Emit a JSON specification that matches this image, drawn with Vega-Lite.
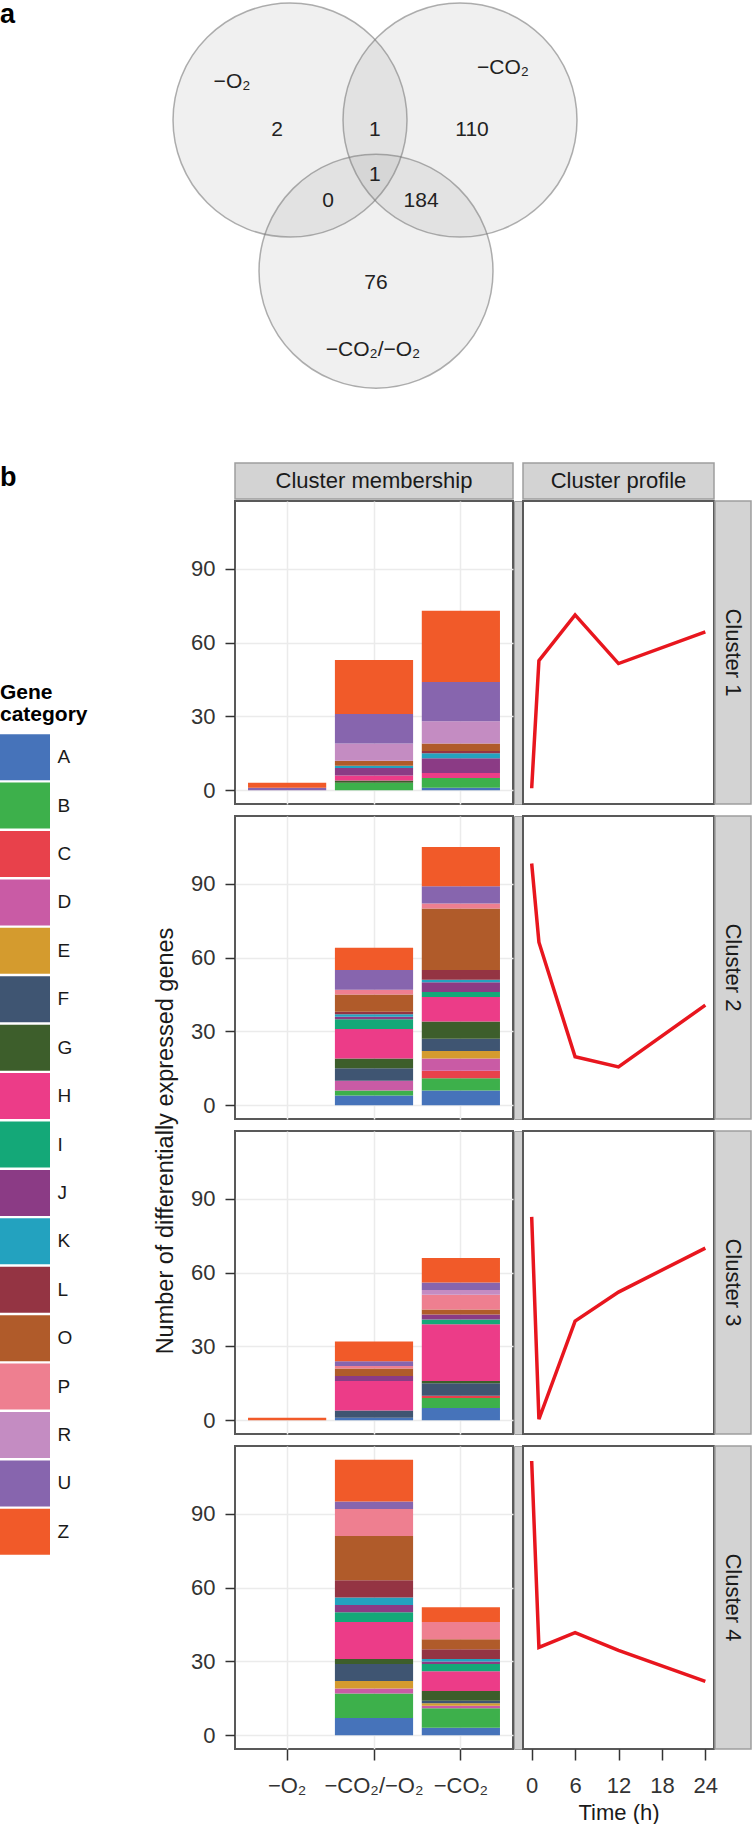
{
  "$schema": "https://vega.github.io/schema/vega-lite/v6.json",
  "padding": 0,
  "background": "white",
  "config": {
    "font": "Liberation Sans",
    "view": {"stroke": null},
    "axis": {"labelFontSize": 22, "labelColor": "#333333", "tickColor": "#333333", "tickWidth": 1.5, "domain": false, "gridColor": "#EBEBEB", "gridWidth": 1.5, "titleFontSize": 22, "titleFontWeight": "normal", "titleColor": "#1A1A1A"},
    "title": {"fontWeight": "normal", "color": "#1A1A1A"}
  },
  "datasets": {
    "venn_sets": [
      {"set": "−O₂", "cx": 0, "cy": 0},
      {"set": "−CO₂", "cx": 1.453, "cy": 0},
      {"set": "−CO₂/−O₂", "cx": 0.735, "cy": -1.291}
    ],
    "venn_labels": [
      {"label": "−O₂", "tx": -0.496, "ty": 0.325},
      {"label": "−CO₂", "tx": 1.821, "ty": 0.444},
      {"label": "−CO₂/−O₂", "tx": 0.709, "ty": -1.966},
      {"label": "2", "tx": -0.111, "ty": -0.085},
      {"label": "1", "tx": 0.726, "ty": -0.085},
      {"label": "110", "tx": 1.556, "ty": -0.085},
      {"label": "1", "tx": 0.726, "ty": -0.47},
      {"label": "0", "tx": 0.325, "ty": -0.692},
      {"label": "184", "tx": 1.12, "ty": -0.692},
      {"label": "76", "tx": 0.735, "ty": -1.393}
    ],
    "cats": [
      {"cat": "A"}, {"cat": "B"}, {"cat": "C"}, {"cat": "D"}, {"cat": "E"}, {"cat": "F"}, {"cat": "G"}, {"cat": "H"}, {"cat": "I"}, {"cat": "J"}, {"cat": "K"}, {"cat": "L"}, {"cat": "O"}, {"cat": "P"}, {"cat": "R"}, {"cat": "U"}, {"cat": "Z"}
    ],
    "prof": [
      {"cluster": "Cluster 1", "t": 0, "v": 0.8}, {"cluster": "Cluster 1", "t": 1, "v": 52.7}, {"cluster": "Cluster 1", "t": 6, "v": 71.3}, {"cluster": "Cluster 1", "t": 12, "v": 51.5}, {"cluster": "Cluster 1", "t": 24, "v": 64.4},
      {"cluster": "Cluster 2", "t": 0, "v": 98.3}, {"cluster": "Cluster 2", "t": 1, "v": 66.3}, {"cluster": "Cluster 2", "t": 6, "v": 19.7}, {"cluster": "Cluster 2", "t": 12, "v": 15.6}, {"cluster": "Cluster 2", "t": 24, "v": 40.7},
      {"cluster": "Cluster 3", "t": 0, "v": 82.7}, {"cluster": "Cluster 3", "t": 1, "v": 0.4}, {"cluster": "Cluster 3", "t": 6, "v": 40.3}, {"cluster": "Cluster 3", "t": 12, "v": 52.1}, {"cluster": "Cluster 3", "t": 24, "v": 70.0},
      {"cluster": "Cluster 4", "t": 0, "v": 111.5}, {"cluster": "Cluster 4", "t": 1, "v": 35.7}, {"cluster": "Cluster 4", "t": 6, "v": 41.7}, {"cluster": "Cluster 4", "t": 12, "v": 34.5}, {"cluster": "Cluster 4", "t": 24, "v": 21.9}
    ],
    "bars": [
      {"cluster": "Cluster 1", "cond": "−O₂", "cat": "U", "n": 1},
      {"cluster": "Cluster 1", "cond": "−O₂", "cat": "Z", "n": 2},
      {"cluster": "Cluster 1", "cond": "−CO₂/−O₂", "cat": "B", "n": 3},
      {"cluster": "Cluster 1", "cond": "−CO₂/−O₂", "cat": "G", "n": 1},
      {"cluster": "Cluster 1", "cond": "−CO₂/−O₂", "cat": "H", "n": 2},
      {"cluster": "Cluster 1", "cond": "−CO₂/−O₂", "cat": "J", "n": 3},
      {"cluster": "Cluster 1", "cond": "−CO₂/−O₂", "cat": "K", "n": 1},
      {"cluster": "Cluster 1", "cond": "−CO₂/−O₂", "cat": "O", "n": 2},
      {"cluster": "Cluster 1", "cond": "−CO₂/−O₂", "cat": "R", "n": 7},
      {"cluster": "Cluster 1", "cond": "−CO₂/−O₂", "cat": "U", "n": 12},
      {"cluster": "Cluster 1", "cond": "−CO₂/−O₂", "cat": "Z", "n": 22},
      {"cluster": "Cluster 1", "cond": "−CO₂", "cat": "A", "n": 1},
      {"cluster": "Cluster 1", "cond": "−CO₂", "cat": "B", "n": 4},
      {"cluster": "Cluster 1", "cond": "−CO₂", "cat": "H", "n": 2},
      {"cluster": "Cluster 1", "cond": "−CO₂", "cat": "J", "n": 6},
      {"cluster": "Cluster 1", "cond": "−CO₂", "cat": "K", "n": 2},
      {"cluster": "Cluster 1", "cond": "−CO₂", "cat": "L", "n": 1},
      {"cluster": "Cluster 1", "cond": "−CO₂", "cat": "O", "n": 3},
      {"cluster": "Cluster 1", "cond": "−CO₂", "cat": "R", "n": 9},
      {"cluster": "Cluster 1", "cond": "−CO₂", "cat": "U", "n": 16},
      {"cluster": "Cluster 1", "cond": "−CO₂", "cat": "Z", "n": 29},
      {"cluster": "Cluster 2", "cond": "−CO₂/−O₂", "cat": "A", "n": 4},
      {"cluster": "Cluster 2", "cond": "−CO₂/−O₂", "cat": "B", "n": 2},
      {"cluster": "Cluster 2", "cond": "−CO₂/−O₂", "cat": "D", "n": 4},
      {"cluster": "Cluster 2", "cond": "−CO₂/−O₂", "cat": "F", "n": 5},
      {"cluster": "Cluster 2", "cond": "−CO₂/−O₂", "cat": "G", "n": 4},
      {"cluster": "Cluster 2", "cond": "−CO₂/−O₂", "cat": "H", "n": 12},
      {"cluster": "Cluster 2", "cond": "−CO₂/−O₂", "cat": "I", "n": 4},
      {"cluster": "Cluster 2", "cond": "−CO₂/−O₂", "cat": "J", "n": 1},
      {"cluster": "Cluster 2", "cond": "−CO₂/−O₂", "cat": "K", "n": 1},
      {"cluster": "Cluster 2", "cond": "−CO₂/−O₂", "cat": "L", "n": 1},
      {"cluster": "Cluster 2", "cond": "−CO₂/−O₂", "cat": "O", "n": 7},
      {"cluster": "Cluster 2", "cond": "−CO₂/−O₂", "cat": "P", "n": 2},
      {"cluster": "Cluster 2", "cond": "−CO₂/−O₂", "cat": "U", "n": 8},
      {"cluster": "Cluster 2", "cond": "−CO₂/−O₂", "cat": "Z", "n": 9},
      {"cluster": "Cluster 2", "cond": "−CO₂", "cat": "A", "n": 6},
      {"cluster": "Cluster 2", "cond": "−CO₂", "cat": "B", "n": 5},
      {"cluster": "Cluster 2", "cond": "−CO₂", "cat": "C", "n": 3},
      {"cluster": "Cluster 2", "cond": "−CO₂", "cat": "D", "n": 5},
      {"cluster": "Cluster 2", "cond": "−CO₂", "cat": "E", "n": 3},
      {"cluster": "Cluster 2", "cond": "−CO₂", "cat": "F", "n": 5},
      {"cluster": "Cluster 2", "cond": "−CO₂", "cat": "G", "n": 7},
      {"cluster": "Cluster 2", "cond": "−CO₂", "cat": "H", "n": 10},
      {"cluster": "Cluster 2", "cond": "−CO₂", "cat": "I", "n": 2},
      {"cluster": "Cluster 2", "cond": "−CO₂", "cat": "J", "n": 4},
      {"cluster": "Cluster 2", "cond": "−CO₂", "cat": "K", "n": 1},
      {"cluster": "Cluster 2", "cond": "−CO₂", "cat": "L", "n": 4},
      {"cluster": "Cluster 2", "cond": "−CO₂", "cat": "O", "n": 25},
      {"cluster": "Cluster 2", "cond": "−CO₂", "cat": "P", "n": 2},
      {"cluster": "Cluster 2", "cond": "−CO₂", "cat": "U", "n": 7},
      {"cluster": "Cluster 2", "cond": "−CO₂", "cat": "Z", "n": 16},
      {"cluster": "Cluster 3", "cond": "−O₂", "cat": "Z", "n": 1},
      {"cluster": "Cluster 3", "cond": "−CO₂/−O₂", "cat": "A", "n": 1},
      {"cluster": "Cluster 3", "cond": "−CO₂/−O₂", "cat": "F", "n": 3},
      {"cluster": "Cluster 3", "cond": "−CO₂/−O₂", "cat": "H", "n": 12},
      {"cluster": "Cluster 3", "cond": "−CO₂/−O₂", "cat": "J", "n": 2},
      {"cluster": "Cluster 3", "cond": "−CO₂/−O₂", "cat": "O", "n": 3},
      {"cluster": "Cluster 3", "cond": "−CO₂/−O₂", "cat": "P", "n": 1},
      {"cluster": "Cluster 3", "cond": "−CO₂/−O₂", "cat": "U", "n": 2},
      {"cluster": "Cluster 3", "cond": "−CO₂/−O₂", "cat": "Z", "n": 8},
      {"cluster": "Cluster 3", "cond": "−CO₂", "cat": "A", "n": 5},
      {"cluster": "Cluster 3", "cond": "−CO₂", "cat": "B", "n": 4},
      {"cluster": "Cluster 3", "cond": "−CO₂", "cat": "C", "n": 1},
      {"cluster": "Cluster 3", "cond": "−CO₂", "cat": "F", "n": 5},
      {"cluster": "Cluster 3", "cond": "−CO₂", "cat": "G", "n": 1},
      {"cluster": "Cluster 3", "cond": "−CO₂", "cat": "H", "n": 23},
      {"cluster": "Cluster 3", "cond": "−CO₂", "cat": "I", "n": 2},
      {"cluster": "Cluster 3", "cond": "−CO₂", "cat": "J", "n": 2},
      {"cluster": "Cluster 3", "cond": "−CO₂", "cat": "O", "n": 2},
      {"cluster": "Cluster 3", "cond": "−CO₂", "cat": "P", "n": 6},
      {"cluster": "Cluster 3", "cond": "−CO₂", "cat": "R", "n": 2},
      {"cluster": "Cluster 3", "cond": "−CO₂", "cat": "U", "n": 3},
      {"cluster": "Cluster 3", "cond": "−CO₂", "cat": "Z", "n": 10},
      {"cluster": "Cluster 4", "cond": "−CO₂/−O₂", "cat": "A", "n": 7},
      {"cluster": "Cluster 4", "cond": "−CO₂/−O₂", "cat": "B", "n": 10},
      {"cluster": "Cluster 4", "cond": "−CO₂/−O₂", "cat": "D", "n": 2},
      {"cluster": "Cluster 4", "cond": "−CO₂/−O₂", "cat": "E", "n": 3},
      {"cluster": "Cluster 4", "cond": "−CO₂/−O₂", "cat": "F", "n": 7},
      {"cluster": "Cluster 4", "cond": "−CO₂/−O₂", "cat": "G", "n": 2},
      {"cluster": "Cluster 4", "cond": "−CO₂/−O₂", "cat": "H", "n": 15},
      {"cluster": "Cluster 4", "cond": "−CO₂/−O₂", "cat": "I", "n": 4},
      {"cluster": "Cluster 4", "cond": "−CO₂/−O₂", "cat": "J", "n": 3},
      {"cluster": "Cluster 4", "cond": "−CO₂/−O₂", "cat": "K", "n": 3},
      {"cluster": "Cluster 4", "cond": "−CO₂/−O₂", "cat": "L", "n": 7},
      {"cluster": "Cluster 4", "cond": "−CO₂/−O₂", "cat": "O", "n": 18},
      {"cluster": "Cluster 4", "cond": "−CO₂/−O₂", "cat": "P", "n": 11},
      {"cluster": "Cluster 4", "cond": "−CO₂/−O₂", "cat": "U", "n": 3},
      {"cluster": "Cluster 4", "cond": "−CO₂/−O₂", "cat": "Z", "n": 17},
      {"cluster": "Cluster 4", "cond": "−CO₂", "cat": "A", "n": 3},
      {"cluster": "Cluster 4", "cond": "−CO₂", "cat": "B", "n": 8},
      {"cluster": "Cluster 4", "cond": "−CO₂", "cat": "D", "n": 1},
      {"cluster": "Cluster 4", "cond": "−CO₂", "cat": "E", "n": 1},
      {"cluster": "Cluster 4", "cond": "−CO₂", "cat": "F", "n": 1},
      {"cluster": "Cluster 4", "cond": "−CO₂", "cat": "G", "n": 4},
      {"cluster": "Cluster 4", "cond": "−CO₂", "cat": "H", "n": 8},
      {"cluster": "Cluster 4", "cond": "−CO₂", "cat": "I", "n": 3},
      {"cluster": "Cluster 4", "cond": "−CO₂", "cat": "J", "n": 1},
      {"cluster": "Cluster 4", "cond": "−CO₂", "cat": "K", "n": 1},
      {"cluster": "Cluster 4", "cond": "−CO₂", "cat": "L", "n": 4},
      {"cluster": "Cluster 4", "cond": "−CO₂", "cat": "O", "n": 4},
      {"cluster": "Cluster 4", "cond": "−CO₂", "cat": "P", "n": 7},
      {"cluster": "Cluster 4", "cond": "−CO₂", "cat": "Z", "n": 6}
    ]
  },
  "spacing": 70,
  "vconcat": [
    {
      "width": 754,
      "height": 390,
      "view": {"stroke": null},
      "layer": [
        {
          "data": {"name": "venn_sets"},
          "mark": {"type": "point", "shape": "circle", "filled": true, "size": 54756, "fill": "#808080", "fillOpacity": 0.12, "stroke": "#7A7A7A", "strokeOpacity": 0.6, "strokeWidth": 1.5},
          "encoding": {
            "x": {"field": "cx", "type": "quantitative", "scale": {"domain": [-2.479, 3.966], "nice": false, "zero": false}, "axis": null},
            "y": {"field": "cy", "type": "quantitative", "scale": {"domain": [-2.324, 1.009], "nice": false, "zero": false}, "axis": null}
          }
        },
        {
          "data": {"name": "venn_labels"},
          "mark": {"type": "text", "fontSize": 21, "color": "#222222"},
          "encoding": {
            "x": {"field": "tx", "type": "quantitative"},
            "y": {"field": "ty", "type": "quantitative"},
            "text": {"field": "label"}
          }
        },
        {
          "data": {"values": [{"label": "a", "tx": -2.479, "ty": 1.009}]},
          "mark": {"type": "text", "fontSize": 27, "fontWeight": "bold", "align": "left", "baseline": "top", "color": "#000000"},
          "encoding": {
            "x": {"field": "tx", "type": "quantitative"},
            "y": {"field": "ty", "type": "quantitative"},
            "text": {"field": "label"}
          }
        }
      ]
    },
    {
      "title": {"text": "b", "anchor": "start", "fontSize": 27, "fontWeight": "bold", "color": "#000000", "dy": 30, "offset": 0},
      "spacing": 65,
      "hconcat": [
        {
          "spacing": 19,
          "vconcat": [
            {
              "width": 50, "height": 200,
              "view": {"stroke": null},
              "data": {"values": [{"s": ""}]},
              "mark": {"type": "text"},
              "encoding": {"text": {"field": "s"}}
            },
            {
              "data": {"name": "cats"},
              "width": 50,
              "height": 823,
              "view": {"stroke": null},
              "title": {"text": ["Gene", "category"], "anchor": "start", "fontSize": 21, "fontWeight": "bold", "color": "#000000", "lineHeight": 22, "offset": 8},
              "mark": {"type": "bar"},
              "encoding": {
                "y": {"field": "cat", "type": "nominal", "scale": {"paddingInner": 0.05, "paddingOuter": 0.025}, "axis": {"orient": "right", "title": null, "ticks": false, "tickSize": 0, "domain": false, "grid": false, "labelPadding": 7, "labelFontSize": 19, "labelColor": "#1A1A1A"}},
                "color": {"field": "cat", "type": "nominal", "scale": {"domain": ["A","B","C","D","E","F","G","H","I","J","K","L","O","P","R","U","Z"], "range": ["#4673BA","#3DB04B","#E8414B","#C95BA5","#D49B2E","#3F5572","#3D5E2B","#EC3C88","#14A878","#8B3B85","#23A2BF","#943443","#B05B2A","#EE7F90","#C48CC2","#8765AE","#F15A29"]}, "legend": null}
              }
            }
          ]
        },
        {
          "spacing": 11,
          "hconcat": [
            {
              "width": 1, "height": 1356,
              "view": {"stroke": null},
              "title": {"text": "Number of differentially expressed genes", "orient": "left", "anchor": "middle", "frame": "group", "offset": 0, "fontSize": 23.5, "fontWeight": "normal", "color": "#1A1A1A"},
              "data": {"values": [{"s": ""}]},
              "mark": {"type": "text"},
              "encoding": {"text": {"field": "s"}}
            },
            {
              "spacing": 0,
              "vconcat": [
                {
                  "spacing": 10,
                  "bounds": "flush",
                  "hconcat": [
                    {
                      "width": 278, "height": 36,
                      "view": {"fill": "#D3D3D3", "stroke": "#9E9E9E", "strokeWidth": 1.5},
                      "data": {"values": [{"s": "Cluster membership"}]},
                      "mark": {"type": "text", "fontSize": 22, "color": "#1A1A1A"},
                      "encoding": {"text": {"field": "s"}}
                    },
                    {
                      "width": 191, "height": 36,
                      "view": {"fill": "#D3D3D3", "stroke": "#9E9E9E", "strokeWidth": 1.5},
                      "data": {"values": [{"s": "Cluster profile"}]},
                      "mark": {"type": "text", "fontSize": 22, "color": "#1A1A1A"},
                      "encoding": {"text": {"field": "s"}}
                    }
                  ]
                },
                {
                  "spacing": 10,
                  "vconcat": [
                    {
                      "spacing": 1,
                      "bounds": "flush",
                      "hconcat": [
                        {
                          "width": 278, "height": 303,
                          "view": {"stroke": "#595959", "strokeWidth": 2},
                          "data": {"name": "bars"},
                          "transform": [{"filter": "datum.cluster == 'Cluster 1'"}],
                          "mark": {"type": "bar"},
                          "encoding": {
                            "x": {"field": "cond", "type": "nominal", "scale": {"domain": ["−O₂","−CO₂/−O₂","−CO₂"], "paddingInner": 0.1, "paddingOuter": 0.15}, "axis": {"title": null, "labels": false, "ticks": false, "grid": true, "bandPosition": 0.5}},
                            "y": {"field": "n", "type": "quantitative", "stack": "zero", "scale": {"domain": [-5.6, 117.6], "nice": false, "zero": false}, "axis": {"values": [0,30,60,90], "title": null, "grid": true, "tickSize": 10, "labelPadding": 10}},
                            "color": {"field": "cat", "type": "nominal", "scale": {"domain": ["A","B","C","D","E","F","G","H","I","J","K","L","O","P","R","U","Z"], "range": ["#4673BA","#3DB04B","#E8414B","#C95BA5","#D49B2E","#3F5572","#3D5E2B","#EC3C88","#14A878","#8B3B85","#23A2BF","#943443","#B05B2A","#EE7F90","#C48CC2","#8765AE","#F15A29"]}, "legend": null},
                            "order": {"field": "cat", "sort": "ascending"}
                          }
                        },
                        {
                          "width": 8, "height": 303,
                          "view": {"fill": "#CFCFCF", "stroke": "#9E9E9E", "strokeWidth": 1},
                          "data": {"values": [{"s": ""}]},
                          "mark": {"type": "text"},
                          "encoding": {"text": {"field": "s"}}
                        },
                        {
                          "width": 191, "height": 303,
                          "view": {"stroke": "#595959", "strokeWidth": 2},
                          "data": {"name": "prof"},
                          "transform": [{"filter": "datum.cluster == 'Cluster 1'"}],
                          "mark": {"type": "line", "color": "#E8161E", "strokeWidth": 3.5},
                          "encoding": {
                            "x": {"field": "t", "type": "quantitative", "scale": {"domain": [-1.2, 25.2], "nice": false, "zero": false}, "axis": null},
                            "y": {"field": "v", "type": "quantitative", "scale": {"domain": [-5.6, 117.6], "nice": false, "zero": false}, "axis": null}
                          }
                        },
                        {
                          "width": 36, "height": 303,
                          "view": {"fill": "#D3D3D3", "stroke": "#9E9E9E", "strokeWidth": 1.5},
                          "data": {"values": [{"s": "Cluster 1"}]},
                          "mark": {"type": "text", "angle": 90, "fontSize": 22, "color": "#1A1A1A"},
                          "encoding": {"text": {"field": "s"}}
                        }
                      ]
                    },
                    {
                      "spacing": 1,
                      "bounds": "flush",
                      "hconcat": [
                        {
                          "width": 278, "height": 303,
                          "view": {"stroke": "#595959", "strokeWidth": 2},
                          "data": {"name": "bars"},
                          "transform": [{"filter": "datum.cluster == 'Cluster 2'"}],
                          "mark": {"type": "bar"},
                          "encoding": {
                            "x": {"field": "cond", "type": "nominal", "scale": {"domain": ["−O₂","−CO₂/−O₂","−CO₂"], "paddingInner": 0.1, "paddingOuter": 0.15}, "axis": {"title": null, "labels": false, "ticks": false, "grid": true, "bandPosition": 0.5}},
                            "y": {"field": "n", "type": "quantitative", "stack": "zero", "scale": {"domain": [-5.6, 117.6], "nice": false, "zero": false}, "axis": {"values": [0,30,60,90], "title": null, "grid": true, "tickSize": 10, "labelPadding": 10}},
                            "color": {"field": "cat", "type": "nominal", "scale": {"domain": ["A","B","C","D","E","F","G","H","I","J","K","L","O","P","R","U","Z"], "range": ["#4673BA","#3DB04B","#E8414B","#C95BA5","#D49B2E","#3F5572","#3D5E2B","#EC3C88","#14A878","#8B3B85","#23A2BF","#943443","#B05B2A","#EE7F90","#C48CC2","#8765AE","#F15A29"]}, "legend": null},
                            "order": {"field": "cat", "sort": "ascending"}
                          }
                        },
                        {
                          "width": 8, "height": 303,
                          "view": {"fill": "#CFCFCF", "stroke": "#9E9E9E", "strokeWidth": 1},
                          "data": {"values": [{"s": ""}]},
                          "mark": {"type": "text"},
                          "encoding": {"text": {"field": "s"}}
                        },
                        {
                          "width": 191, "height": 303,
                          "view": {"stroke": "#595959", "strokeWidth": 2},
                          "data": {"name": "prof"},
                          "transform": [{"filter": "datum.cluster == 'Cluster 2'"}],
                          "mark": {"type": "line", "color": "#E8161E", "strokeWidth": 3.5},
                          "encoding": {
                            "x": {"field": "t", "type": "quantitative", "scale": {"domain": [-1.2, 25.2], "nice": false, "zero": false}, "axis": null},
                            "y": {"field": "v", "type": "quantitative", "scale": {"domain": [-5.6, 117.6], "nice": false, "zero": false}, "axis": null}
                          }
                        },
                        {
                          "width": 36, "height": 303,
                          "view": {"fill": "#D3D3D3", "stroke": "#9E9E9E", "strokeWidth": 1.5},
                          "data": {"values": [{"s": "Cluster 2"}]},
                          "mark": {"type": "text", "angle": 90, "fontSize": 22, "color": "#1A1A1A"},
                          "encoding": {"text": {"field": "s"}}
                        }
                      ]
                    },
                    {
                      "spacing": 1,
                      "bounds": "flush",
                      "hconcat": [
                        {
                          "width": 278, "height": 303,
                          "view": {"stroke": "#595959", "strokeWidth": 2},
                          "data": {"name": "bars"},
                          "transform": [{"filter": "datum.cluster == 'Cluster 3'"}],
                          "mark": {"type": "bar"},
                          "encoding": {
                            "x": {"field": "cond", "type": "nominal", "scale": {"domain": ["−O₂","−CO₂/−O₂","−CO₂"], "paddingInner": 0.1, "paddingOuter": 0.15}, "axis": {"title": null, "labels": false, "ticks": false, "grid": true, "bandPosition": 0.5}},
                            "y": {"field": "n", "type": "quantitative", "stack": "zero", "scale": {"domain": [-5.6, 117.6], "nice": false, "zero": false}, "axis": {"values": [0,30,60,90], "title": null, "grid": true, "tickSize": 10, "labelPadding": 10}},
                            "color": {"field": "cat", "type": "nominal", "scale": {"domain": ["A","B","C","D","E","F","G","H","I","J","K","L","O","P","R","U","Z"], "range": ["#4673BA","#3DB04B","#E8414B","#C95BA5","#D49B2E","#3F5572","#3D5E2B","#EC3C88","#14A878","#8B3B85","#23A2BF","#943443","#B05B2A","#EE7F90","#C48CC2","#8765AE","#F15A29"]}, "legend": null},
                            "order": {"field": "cat", "sort": "ascending"}
                          }
                        },
                        {
                          "width": 8, "height": 303,
                          "view": {"fill": "#CFCFCF", "stroke": "#9E9E9E", "strokeWidth": 1},
                          "data": {"values": [{"s": ""}]},
                          "mark": {"type": "text"},
                          "encoding": {"text": {"field": "s"}}
                        },
                        {
                          "width": 191, "height": 303,
                          "view": {"stroke": "#595959", "strokeWidth": 2},
                          "data": {"name": "prof"},
                          "transform": [{"filter": "datum.cluster == 'Cluster 3'"}],
                          "mark": {"type": "line", "color": "#E8161E", "strokeWidth": 3.5},
                          "encoding": {
                            "x": {"field": "t", "type": "quantitative", "scale": {"domain": [-1.2, 25.2], "nice": false, "zero": false}, "axis": null},
                            "y": {"field": "v", "type": "quantitative", "scale": {"domain": [-5.6, 117.6], "nice": false, "zero": false}, "axis": null}
                          }
                        },
                        {
                          "width": 36, "height": 303,
                          "view": {"fill": "#D3D3D3", "stroke": "#9E9E9E", "strokeWidth": 1.5},
                          "data": {"values": [{"s": "Cluster 3"}]},
                          "mark": {"type": "text", "angle": 90, "fontSize": 22, "color": "#1A1A1A"},
                          "encoding": {"text": {"field": "s"}}
                        }
                      ]
                    },
                    {
                      "spacing": 1,
                      "bounds": "flush",
                      "hconcat": [
                        {
                          "width": 278, "height": 303,
                          "view": {"stroke": "#595959", "strokeWidth": 2},
                          "data": {"name": "bars"},
                          "transform": [{"filter": "datum.cluster == 'Cluster 4'"}],
                          "mark": {"type": "bar"},
                          "encoding": {
                            "x": {"field": "cond", "type": "nominal", "scale": {"domain": ["−O₂","−CO₂/−O₂","−CO₂"], "paddingInner": 0.1, "paddingOuter": 0.15}, "axis": {"title": null, "grid": true, "bandPosition": 0.5, "tickSize": 11, "labelAngle": 0, "labelOverlap": false, "labelPadding": 15}},
                            "y": {"field": "n", "type": "quantitative", "stack": "zero", "scale": {"domain": [-5.6, 117.6], "nice": false, "zero": false}, "axis": {"values": [0,30,60,90], "title": null, "grid": true, "tickSize": 10, "labelPadding": 10}},
                            "color": {"field": "cat", "type": "nominal", "scale": {"domain": ["A","B","C","D","E","F","G","H","I","J","K","L","O","P","R","U","Z"], "range": ["#4673BA","#3DB04B","#E8414B","#C95BA5","#D49B2E","#3F5572","#3D5E2B","#EC3C88","#14A878","#8B3B85","#23A2BF","#943443","#B05B2A","#EE7F90","#C48CC2","#8765AE","#F15A29"]}, "legend": null},
                            "order": {"field": "cat", "sort": "ascending"}
                          }
                        },
                        {
                          "width": 8, "height": 303,
                          "view": {"fill": "#CFCFCF", "stroke": "#9E9E9E", "strokeWidth": 1},
                          "data": {"values": [{"s": ""}]},
                          "mark": {"type": "text"},
                          "encoding": {"text": {"field": "s"}}
                        },
                        {
                          "width": 191, "height": 303,
                          "view": {"stroke": "#595959", "strokeWidth": 2},
                          "data": {"name": "prof"},
                          "transform": [{"filter": "datum.cluster == 'Cluster 4'"}],
                          "mark": {"type": "line", "color": "#E8161E", "strokeWidth": 3.5},
                          "encoding": {
                            "x": {"field": "t", "type": "quantitative", "scale": {"domain": [-1.2, 25.2], "nice": false, "zero": false}, "axis": {"values": [0,6,12,18,24], "title": "Time (h)", "grid": false, "tickSize": 11, "labelPadding": 15, "titlePadding": 6}},
                            "y": {"field": "v", "type": "quantitative", "scale": {"domain": [-5.6, 117.6], "nice": false, "zero": false}, "axis": null}
                          }
                        },
                        {
                          "width": 36, "height": 303,
                          "view": {"fill": "#D3D3D3", "stroke": "#9E9E9E", "strokeWidth": 1.5},
                          "data": {"values": [{"s": "Cluster 4"}]},
                          "mark": {"type": "text", "angle": 90, "fontSize": 22, "color": "#1A1A1A"},
                          "encoding": {"text": {"field": "s"}}
                        }
                      ]
                    }
                  ]
                }
              ]
            }
          ]
        }
      ]
    }
  ]
}
